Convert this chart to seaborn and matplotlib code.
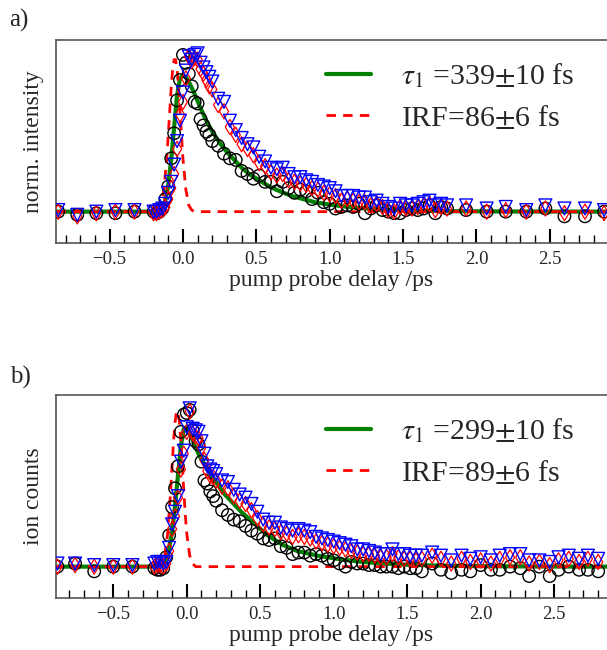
import matplotlib
matplotlib.use("Agg")
import matplotlib.pyplot as plt
from matplotlib.ticker import MultipleLocator
import seaborn as sns

# ---- panel a) data (pump probe delay in ps, normalised signal) ----
delay_a = [-0.85, -0.72, -0.59, -0.46, -0.33,
           -0.20, -0.18, -0.16, -0.14, -0.12, -0.10, -0.08, -0.06, -0.04, -0.02,
           0.00, 0.02, 0.04, 0.06, 0.08, 0.10, 0.12, 0.14, 0.16, 0.18, 0.20,
           0.24, 0.28, 0.32, 0.36, 0.40, 0.44, 0.48, 0.52, 0.56, 0.60,
           0.64, 0.68, 0.72, 0.76, 0.80, 0.84, 0.88, 0.92, 0.96, 1.00,
           1.04, 1.08, 1.12, 1.16, 1.20, 1.24, 1.28, 1.32, 1.36, 1.40,
           1.44, 1.48, 1.52, 1.56, 1.60, 1.64, 1.68, 1.72, 1.76, 1.80,
           1.93, 2.07, 2.20, 2.34, 2.47, 2.60, 2.74, 2.87]
circ_a = [0.00, -0.02, -0.01, -0.01, 0.00,
          0.00, -0.01, 0.00, 0.02, 0.08, 0.16, 0.34, 0.50, 0.71, 0.84,
          1.00, 0.95, 0.88, 0.80, 0.70, 0.69, 0.59, 0.55, 0.51, 0.49, 0.45,
          0.42, 0.37, 0.34, 0.33, 0.26, 0.24, 0.21, 0.23, 0.19, 0.19,
          0.13, 0.19, 0.15, 0.12, 0.14, 0.13, 0.08, 0.12, 0.06, 0.05,
          0.02, 0.03, 0.04, 0.03, 0.05, -0.01, 0.02, 0.04, 0.01, 0.00,
          -0.01, -0.01, 0.01, 0.02, 0.01, 0.02, 0.04, -0.01, 0.03, 0.02,
          0.01, 0.00, 0.00, 0.00, 0.02, -0.03, -0.03, 0.00]
dia_a = [0.00, -0.03, -0.01, 0.00, 0.00,
         -0.01, -0.01, 0.00, 0.01, 0.03, 0.08, 0.15, 0.24, 0.40, 0.62,
         0.70, 0.85, 0.99, 0.96, 0.98, 0.97, 0.91, 0.88, 0.84, 0.80, 0.78,
         0.68, 0.64, 0.54, 0.49, 0.43, 0.40, 0.36, 0.31, 0.29, 0.25,
         0.23, 0.24, 0.20, 0.19, 0.18, 0.17, 0.15, 0.14, 0.12, 0.11,
         0.10, 0.07, 0.08, 0.07, 0.06, 0.06, 0.04, 0.05, 0.03, 0.01,
         0.00, 0.03, 0.02, 0.02, 0.03, 0.04, 0.05, 0.01, 0.03, 0.02,
         0.02, 0.00, 0.01, 0.00, 0.02, -0.01, 0.00, -0.01]
tri_a = [0.01, -0.02, 0.00, 0.01, 0.01,
         0.00, 0.00, 0.01, 0.02, 0.05, 0.12, 0.19, 0.30, 0.45, 0.58,
         0.76, 0.90, 0.99, 0.97, 1.00, 1.01, 0.95, 0.92, 0.89, 0.86, 0.83,
         0.72, 0.70, 0.58, 0.52, 0.47, 0.43, 0.41, 0.35, 0.32, 0.28,
         0.27, 0.28, 0.24, 0.22, 0.22, 0.20, 0.19, 0.17, 0.16, 0.15,
         0.13, 0.10, 0.10, 0.10, 0.09, 0.09, 0.06, 0.07, 0.05, 0.03,
         0.02, 0.05, 0.04, 0.04, 0.05, 0.06, 0.07, 0.04, 0.05, 0.04,
         0.04, 0.02, 0.03, 0.01, 0.04, 0.02, 0.02, 0.01]

fit_a_x = [-0.86, -0.20, -0.16, -0.14, -0.12, -0.10, -0.08, -0.06, -0.04, -0.02,
           0.00, 0.02, 0.05, 0.08, 0.12, 0.16, 0.20, 0.25, 0.30, 0.35,
           0.40, 0.46, 0.52, 0.59, 0.66, 0.74, 0.82, 0.90, 1.00, 1.10,
           1.20, 1.30, 1.40, 1.60, 1.80, 2.20, 2.90]
fit_a_y = [0.0, 0.0, 0.01, 0.03, 0.07, 0.17, 0.33, 0.54, 0.74, 0.85,
           0.87, 0.86, 0.81, 0.75, 0.66, 0.58, 0.51, 0.44, 0.38, 0.33,
           0.28, 0.235, 0.20, 0.16, 0.13, 0.10, 0.08, 0.06, 0.045, 0.033,
           0.024, 0.017, 0.012, 0.006, 0.003, 0.001, 0.0]
irf_a_x = [-0.86, -0.20, -0.17, -0.15, -0.13, -0.11, -0.10, -0.09, -0.08, -0.07, -0.06,
           -0.05, -0.04, -0.03, -0.02, -0.01, 0.00, 0.02, 0.04, 0.06, 0.08, 2.90]
irf_a_y = [0.0, 0.0, 0.01, 0.04, 0.14, 0.34, 0.49, 0.64, 0.79, 0.91, 0.97,
           0.97, 0.91, 0.79, 0.64, 0.49, 0.34, 0.14, 0.04, 0.01, 0.0, 0.0]

# ---- panel b) data ----
delay_b = [-0.88, -0.76, -0.63, -0.50, -0.37,
           -0.22, -0.20, -0.18, -0.16, -0.14, -0.12, -0.10, -0.08, -0.06, -0.04, -0.02,
           0.00, 0.02, 0.04, 0.06, 0.08, 0.10, 0.12, 0.14, 0.16, 0.18, 0.20,
           0.24, 0.28, 0.32, 0.36, 0.40, 0.44, 0.48, 0.52, 0.56, 0.60,
           0.64, 0.68, 0.72, 0.76, 0.80, 0.84, 0.88, 0.92, 0.96, 1.00,
           1.04, 1.08, 1.12, 1.16, 1.20, 1.24, 1.28, 1.32, 1.36, 1.40,
           1.44, 1.48, 1.52, 1.56, 1.60,
           1.67, 1.73, 1.80, 1.87, 1.93, 2.00, 2.07, 2.13, 2.20, 2.27,
           2.33, 2.40, 2.47, 2.53, 2.60, 2.67, 2.73, 2.80]
circ_b = [0.00, 0.02, -0.03, 0.00, 0.00,
          -0.01, -0.02, -0.02, -0.01, 0.06, 0.20, 0.38, 0.50, 0.64, 0.86, 0.97,
          0.98, 1.00, 0.87, 0.80, 0.78, 0.67, 0.55, 0.53, 0.48, 0.45, 0.42,
          0.36, 0.33, 0.30, 0.29, 0.26, 0.23, 0.21, 0.18, 0.17, 0.18,
          0.13, 0.12, 0.08, 0.09, 0.09, 0.07, 0.08, 0.07, 0.05, 0.04,
          0.02, 0.00, 0.03, 0.02, 0.02, 0.01, 0.01, 0.00, 0.00, 0.00,
          -0.01, 0.00, -0.01, -0.01, -0.03,
          0.02, -0.02, -0.04, -0.02, -0.03, 0.01, -0.02, -0.02, 0.00, -0.01,
          -0.06, 0.00, -0.06, -0.02, 0.00, -0.02, -0.02, -0.03]
dia_b = [0.00, 0.01, 0.00, 0.00, 0.00,
         0.00, 0.01, 0.01, 0.00, 0.02, 0.10, 0.24, 0.32, 0.44, 0.62, 0.72,
         0.86, 0.99, 0.85, 0.83, 0.82, 0.76, 0.68, 0.61, 0.58, 0.57, 0.55,
         0.51, 0.50, 0.45, 0.42, 0.40, 0.36, 0.31, 0.27, 0.25, 0.24,
         0.22, 0.21, 0.19, 0.20, 0.19, 0.18, 0.16, 0.15, 0.14, 0.13,
         0.12, 0.11, 0.10, 0.09, 0.08, 0.08, 0.07, 0.06, 0.06, 0.08,
         0.06, 0.05, 0.05, 0.04, 0.05,
         0.07, 0.05, 0.02, 0.05, 0.03, 0.04, 0.02, 0.05, 0.06, 0.06,
         0.02, 0.03, 0.01, 0.04, 0.05, 0.03, 0.05, 0.03]
tri_b = [0.02, 0.02, 0.01, 0.01, 0.01,
         0.02, 0.03, 0.03, 0.02, 0.03, 0.12, 0.27, 0.35, 0.45, 0.67, 0.74,
         0.89, 1.01, 0.88, 0.87, 0.86, 0.80, 0.72, 0.64, 0.62, 0.61, 0.59,
         0.55, 0.54, 0.49, 0.46, 0.44, 0.40, 0.35, 0.30, 0.28, 0.28,
         0.25, 0.24, 0.23, 0.24, 0.23, 0.22, 0.19, 0.18, 0.17, 0.16,
         0.15, 0.14, 0.13, 0.11, 0.11, 0.10, 0.09, 0.08, 0.08, 0.11,
         0.08, 0.08, 0.07, 0.07, 0.07,
         0.09, 0.07, 0.04, 0.07, 0.05, 0.06, 0.04, 0.07, 0.08, 0.08,
         0.04, 0.04, 0.03, 0.06, 0.07, 0.05, 0.07, 0.05]

fit_b_x = [-0.90, -0.20, -0.16, -0.13, -0.10, -0.08, -0.06, -0.04, -0.02, 0.00,
           0.03, 0.06, 0.09, 0.14, 0.20, 0.25, 0.31, 0.37, 0.43, 0.49,
           0.55, 0.65, 0.75, 0.89, 1.06, 1.20, 1.35, 1.50, 1.70, 2.00,
           2.40, 2.90]
fit_b_y = [0.0, 0.0, 0.02, 0.07, 0.22, 0.39, 0.58, 0.77, 0.88, 0.89,
           0.83, 0.76, 0.70, 0.62, 0.54, 0.47, 0.41, 0.35, 0.30, 0.25,
           0.20, 0.14, 0.10, 0.07, 0.045, 0.03, 0.02, 0.012, 0.007, 0.003,
           0.001, 0.0]
irf_b_x = [-0.90, -0.20, -0.17, -0.15, -0.13, -0.11, -0.10, -0.09, -0.08, -0.07, -0.06,
           -0.05, -0.04, -0.03, -0.02, -0.01, 0.00, 0.02, 0.04, 0.06, 0.08, 2.90]
irf_b_y = [0.0, 0.0, 0.02, 0.07, 0.21, 0.48, 0.64, 0.80, 0.92, 0.99, 0.99,
           0.92, 0.80, 0.64, 0.48, 0.33, 0.21, 0.07, 0.02, 0.0, 0.0, 0.0]

sns.set_style("white")
plt.rcParams["font.family"] = ["Liberation Serif", "DejaVu Serif"]
plt.rcParams["mathtext.fontset"] = "stix"
plt.rcParams["xtick.minor.visible"] = True


def draw_panel(ax, delay, circ, dia, tri, fx, fy, ix, iy, labels, ylabel, xlim):
    sns.lineplot(x=fx, y=fy, ax=ax, color="green", lw=3.0, label=labels[0], zorder=2)
    sns.lineplot(x=ix, y=iy, ax=ax, color="red", lw=2.0, ls=(0, (3.4, 2.6)),
                 label=labels[1], zorder=3)
    sns.scatterplot(x=delay, y=circ, ax=ax, marker="o", s=80, facecolor="none",
                    edgecolor="black", linewidth=1.0, zorder=4)
    sns.scatterplot(x=delay, y=dia, ax=ax, marker="d", s=60, facecolor="none",
                    edgecolor="red", linewidth=0.9, zorder=5)
    sns.scatterplot(x=delay, y=tri, ax=ax, marker="v", s=85, facecolor="none",
                    edgecolor="blue", linewidth=1.0, zorder=6)

    ax.set_xlim(xlim)
    ax.set_ylim(-0.2, 1.095)
    ax.xaxis.set_major_locator(MultipleLocator(0.5))
    ax.xaxis.set_minor_locator(MultipleLocator(0.1))
    ax.tick_params(axis="x", which="major", direction="in", length=10, width=1.5,
                   labelsize=13.5, pad=6, color="black", bottom=True)
    ax.tick_params(axis="x", which="minor", direction="in", length=5.5, width=1.0,
                   color="black", bottom=True)
    ax.set_yticks([])
    ax.spines["right"].set_visible(False)
    for side in ["left", "top", "bottom"]:
        ax.spines[side].set_color("#555555")
        ax.spines[side].set_linewidth(1.2)
    ax.set_xlabel("pump probe delay /ps", fontsize=17, labelpad=1)
    ax.set_ylabel(ylabel, fontsize=17)
    ax.yaxis.set_label_coords(-0.022, 0.5)
    ax.legend(loc="upper left", bbox_to_anchor=(0.49, 0.895), frameon=False,
              fontsize=21.5, handlelength=1.5, handletextpad=1.0, labelspacing=0.45,
              borderpad=0, borderaxespad=0)


fig = plt.figure(figsize=(6.07, 6.5), dpi=100)
ax_a = fig.add_axes([56 / 607, (650 - 243) / 650, 1 - 56 / 607, 203 / 650])
ax_b = fig.add_axes([56 / 607, (650 - 598) / 650, 1 - 56 / 607, 203 / 650])

draw_panel(ax_a, delay_a, circ_a, dia_a, tri_a, fit_a_x, fit_a_y, irf_a_x, irf_a_y,
           [r"$\tau_1$ =339$\pm$10 fs", r"IRF=86$\pm$6 fs"], "norm. intensity",
           (-0.865, 2.89))
draw_panel(ax_b, delay_b, circ_b, dia_b, tri_b, fit_b_x, fit_b_y, irf_b_x, irf_b_y,
           [r"$\tau_1$ =299$\pm$10 fs", r"IRF=89$\pm$6 fs"], "ion counts",
           (-0.89, 2.86))

fig.text(9 / 607, 1 - 20 / 650, "a)", fontsize=18, va="center")
fig.text(10 / 607, 1 - 377 / 650, "b)", fontsize=18, va="center")

fig.savefig("out.png", dpi=100)
